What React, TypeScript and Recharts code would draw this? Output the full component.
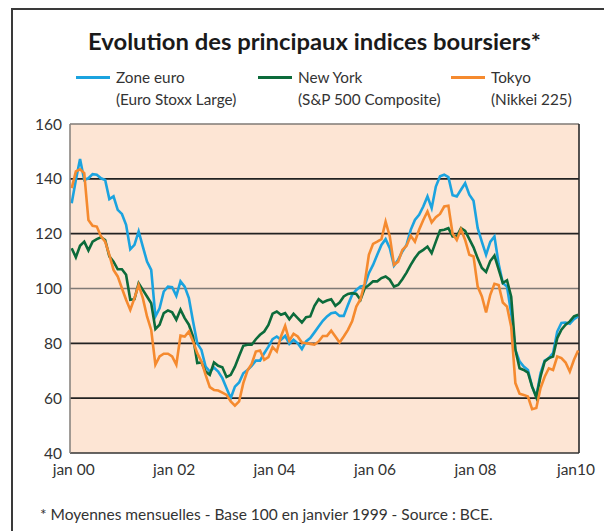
import React from "react";
import {
  LineChart,
  Line,
  XAxis,
  YAxis,
  ReferenceLine,
  ReferenceArea,
} from "recharts";

// monthly index, base 100 = jan 1999 ; jan 2000 .. feb 2010
const zoneEuro = [
  131.1, 139.6, 147.2, 139.6, 140.2, 141.7, 141.5, 140.2, 139.6, 132.6, 133.6, 128.7,
  127.2, 123.2, 114.3, 115.9, 120.8, 115.3, 109.8, 106.8, 89.8, 92.8, 98.9, 100.7,
  100.5, 97.3, 102.6, 100.7, 96.5, 88, 80, 77.6, 71.5, 69.7, 71.2, 69.7,
  67.3, 63.6, 60, 64.2, 65.7, 69.1, 70.3, 71.8, 73.7, 73.7, 76.4, 78.8,
  81.5, 82.5, 81.3, 82.7, 79.8, 81.3, 80, 77.9, 80.7, 81.9, 84, 86.1,
  88.2, 89.8, 91, 91.3, 90, 90, 94, 97.7, 99.5, 100.7, 101, 105.6,
  108.6, 112.3, 115.9, 118, 114.7, 108.3, 110.5, 113.5, 115.9, 121.4, 125, 126.9,
  129.9, 133.6, 129.3, 137.2, 140.9, 141.5, 140.6, 134, 133.6, 136, 138.4, 134.2,
  132, 122, 117, 112.3, 117, 119, 109, 102, 100.7, 91, 77.6, 73.4,
  71.5, 70.3, 64.2, 60.6, 69.1, 73.7, 74.6, 76.4, 84.3, 87.4, 87.6, 87.1,
  88.8, 89.8,
];

const newYork = [
  114.7, 111.4, 115.6, 117.1, 113.9, 117.1, 118, 118.7, 117.7, 111.7, 109.8, 107,
  107, 105, 95.9, 96.1, 101.9, 99.5, 97.1, 94.6, 85.2, 86.8, 91, 92,
  91.3, 88.6, 92.3, 89.2, 86.8, 82.5, 72.8, 73, 69.7, 68.5, 73, 71.8,
  71.3, 67.7, 68.5, 71.5, 75.4, 79.1, 79.5, 79.5, 81.5, 83.1, 84.3, 86.7,
  90.8, 91.6, 90.4, 91, 88.8, 90.8, 89.2, 87.6, 89.5, 89.8, 93.7, 96.1,
  94.9, 95.6, 96.1, 93.7, 94.9, 97.1, 98, 98.3, 98, 95.9, 100.1, 101.3,
  102.6, 102.6, 103.8, 104.4, 103.2, 100.7, 101.3, 103.4, 105.8, 108.6, 111.1, 113.1,
  114.1, 115.3, 112.9, 117.1, 121.2, 121.4, 122, 119, 119, 122, 121, 118,
  115, 111, 107.5, 106, 110, 112, 107, 102, 103, 97, 77.6, 70.9,
  70.3, 69.3, 64.2, 60.3, 67.8, 73.4, 74.6, 75.2, 81.9, 85, 86.8, 88,
  89.8, 90.4,
];

const tokyo = [
  136.6, 142.7, 143.5, 142.1, 125, 122.9, 122.6, 119, 117.1, 112.3, 106.8, 104.4,
  100.1, 95.9, 92.2, 96.5, 101.3, 96.5, 89.8, 84.9, 72.2, 75.2, 76.2, 76.2,
  75.2, 72.2, 82.8, 82.5, 84.3, 80.7, 76.4, 73.4, 68.5, 64, 63, 62.8,
  62, 61.2, 58.8, 57.3, 58.8, 65.5, 70.1, 72.5, 77, 77.4, 74, 75,
  78.6, 77, 82.5, 86.4, 81, 83.5, 82.5, 80.3, 80, 79.8, 79.5, 80.7,
  82.7, 82.7, 84.6, 82.5, 80.3, 82.5, 84.9, 88, 93.4, 96.1, 101.9, 112.3,
  116.3, 117.1, 118, 124.4, 119, 108.6, 109.8, 114.1, 115.6, 119.2, 117.1, 121.4,
  125, 128.1, 124.1, 126, 127.2, 129.9, 130.2, 120, 117.7, 121.6, 117.7, 112.3,
  111.7, 100.7, 97.1, 91.3, 97.7, 101.7, 101.3, 94.9, 93.4, 86.1, 65.5, 61.6,
  61.2, 60.6, 56, 56.4, 63.6, 67.8, 70.9, 70.3, 75.2, 74.6, 73, 69.7,
  74, 77.4,
];

const xTicks = [0, 24, 48, 72, 96, 120];
const xTickLabels = ["jan 00", "jan 02", "jan 04", "jan 06", "jan 08", "jan10"];
const yTicks = [40, 60, 80, 100, 120, 140, 160];
const darkGrid = [60, 80, 120, 140];
const greyGrid = [100, 160];

const data = zoneEuro.map((v, i) => ({
  m: i,
  euro: v,
  ny: newYork[i],
  tokyo: tokyo[i],
}));

const FONT = "Lato, 'Open Sans', sans-serif";
const X_MIN = -0.4;
const X_MAX = 121.2;

const legendItems = [
  { color: "#1ba3df", l1: "Zone euro", l2: "(Euro Stoxx Large)", x: 76 },
  { color: "#0c6b3b", l1: "New York", l2: "(S&P 500 Composite)", x: 258 },
  { color: "#f58a2f", l1: "Tokyo", l2: "(Nikkei 225)", x: 451 },
];

export default function App() {
  return (
    <div
      style={{
        position: "absolute",
        left: 0,
        top: 0,
        width: 604,
        height: 531,
        background: "#fff",
        fontFamily: FONT,
        color: "#333",
        overflow: "hidden",
      }}
    >
      {/* frame */}
      <div
        style={{
          position: "absolute",
          left: 11,
          top: 8,
          width: 620,
          height: 560,
          borderLeft: "2px solid #3a3a3a",
          borderTop: "2px solid #3a3a3a",
        }}
      />
      <svg width={604} height={60} style={{ position: "absolute", left: 0, top: 0 }}>
        <text
          x={88}
          y={50}
          textLength={453}
          lengthAdjust="spacingAndGlyphs"
          style={{ fontFamily: FONT, fontWeight: 700, fontSize: 23, fill: "#1a1a1a" }}
        >
          Evolution des principaux indices boursiers*
        </text>
      </svg>
      {legendItems.map((it) => (
        <div key={it.l1} style={{ position: "absolute", left: it.x, top: 66 }}>
          <div
            style={{
              position: "absolute",
              left: 0,
              top: 10,
              width: 34,
              height: 3,
              background: it.color,
            }}
          />
          <div
            style={{
              position: "absolute",
              left: 40,
              top: 0,
              fontSize: 15.3,
              lineHeight: "22px",
              whiteSpace: "nowrap",
            }}
          >
            {it.l1}
            <br />
            {it.l2}
          </div>
        </div>
      ))}
      <div style={{ position: "absolute", left: 0, top: 0 }}>
        <LineChart
          width={604}
          height={531}
          data={data}
          margin={{ top: 124, right: 25, bottom: 48, left: 20 }}
        >
          <ReferenceArea
            x1={X_MIN}
            x2={X_MAX}
            y1={40}
            y2={160}
            fill="#fde5d4"
            fillOpacity={1}
            stroke="none"
          />
          {darkGrid.map((y) => (
            <ReferenceLine key={y} y={y} stroke="#222" strokeWidth={1.6} />
          ))}
          {greyGrid.map((y) => (
            <ReferenceLine key={y} y={y} stroke="#7f7a76" strokeWidth={1.6} />
          ))}
          <ReferenceLine x={X_MAX} stroke="#2a2a2a" strokeWidth={1.6} />
          <XAxis
            dataKey="m"
            type="number"
            domain={[X_MIN, X_MAX]}
            allowDataOverflow
            ticks={xTicks}
            tickFormatter={(v) => xTickLabels[xTicks.indexOf(v)]}
            tick={{ fill: "#333", fontSize: 15.5, fontFamily: FONT, dy: 3 }}
            tickLine={false}
            axisLine={{ stroke: "#333", strokeWidth: 1.6 }}
            height={30}
            dx={2}
          />
          <YAxis
            type="number"
            domain={[40, 160]}
            ticks={yTicks}
            tick={{ fill: "#333", fontSize: 15.5, fontFamily: FONT }}
            tickLine={false}
            axisLine={{ stroke: "#8a8580", strokeWidth: 1.6 }}
            width={50}
          />
          <Line
            dataKey="euro"
            stroke="#1ba3df"
            strokeWidth={2.6}
            dot={false}
            isAnimationActive={false}
          />
          <Line
            dataKey="ny"
            stroke="#0c6b3b"
            strokeWidth={2.6}
            dot={false}
            isAnimationActive={false}
          />
          <Line
            dataKey="tokyo"
            stroke="#f58a2f"
            strokeWidth={2.6}
            dot={false}
            isAnimationActive={false}
          />
        </LineChart>
      </div>
      <div
        style={{
          position: "absolute",
          left: 40,
          top: 505,
          fontSize: 15.5,
          whiteSpace: "nowrap",
        }}
      >
        * Moyennes mensuelles - Base 100 en janvier 1999 - Source : BCE.
      </div>
    </div>
  );
}
